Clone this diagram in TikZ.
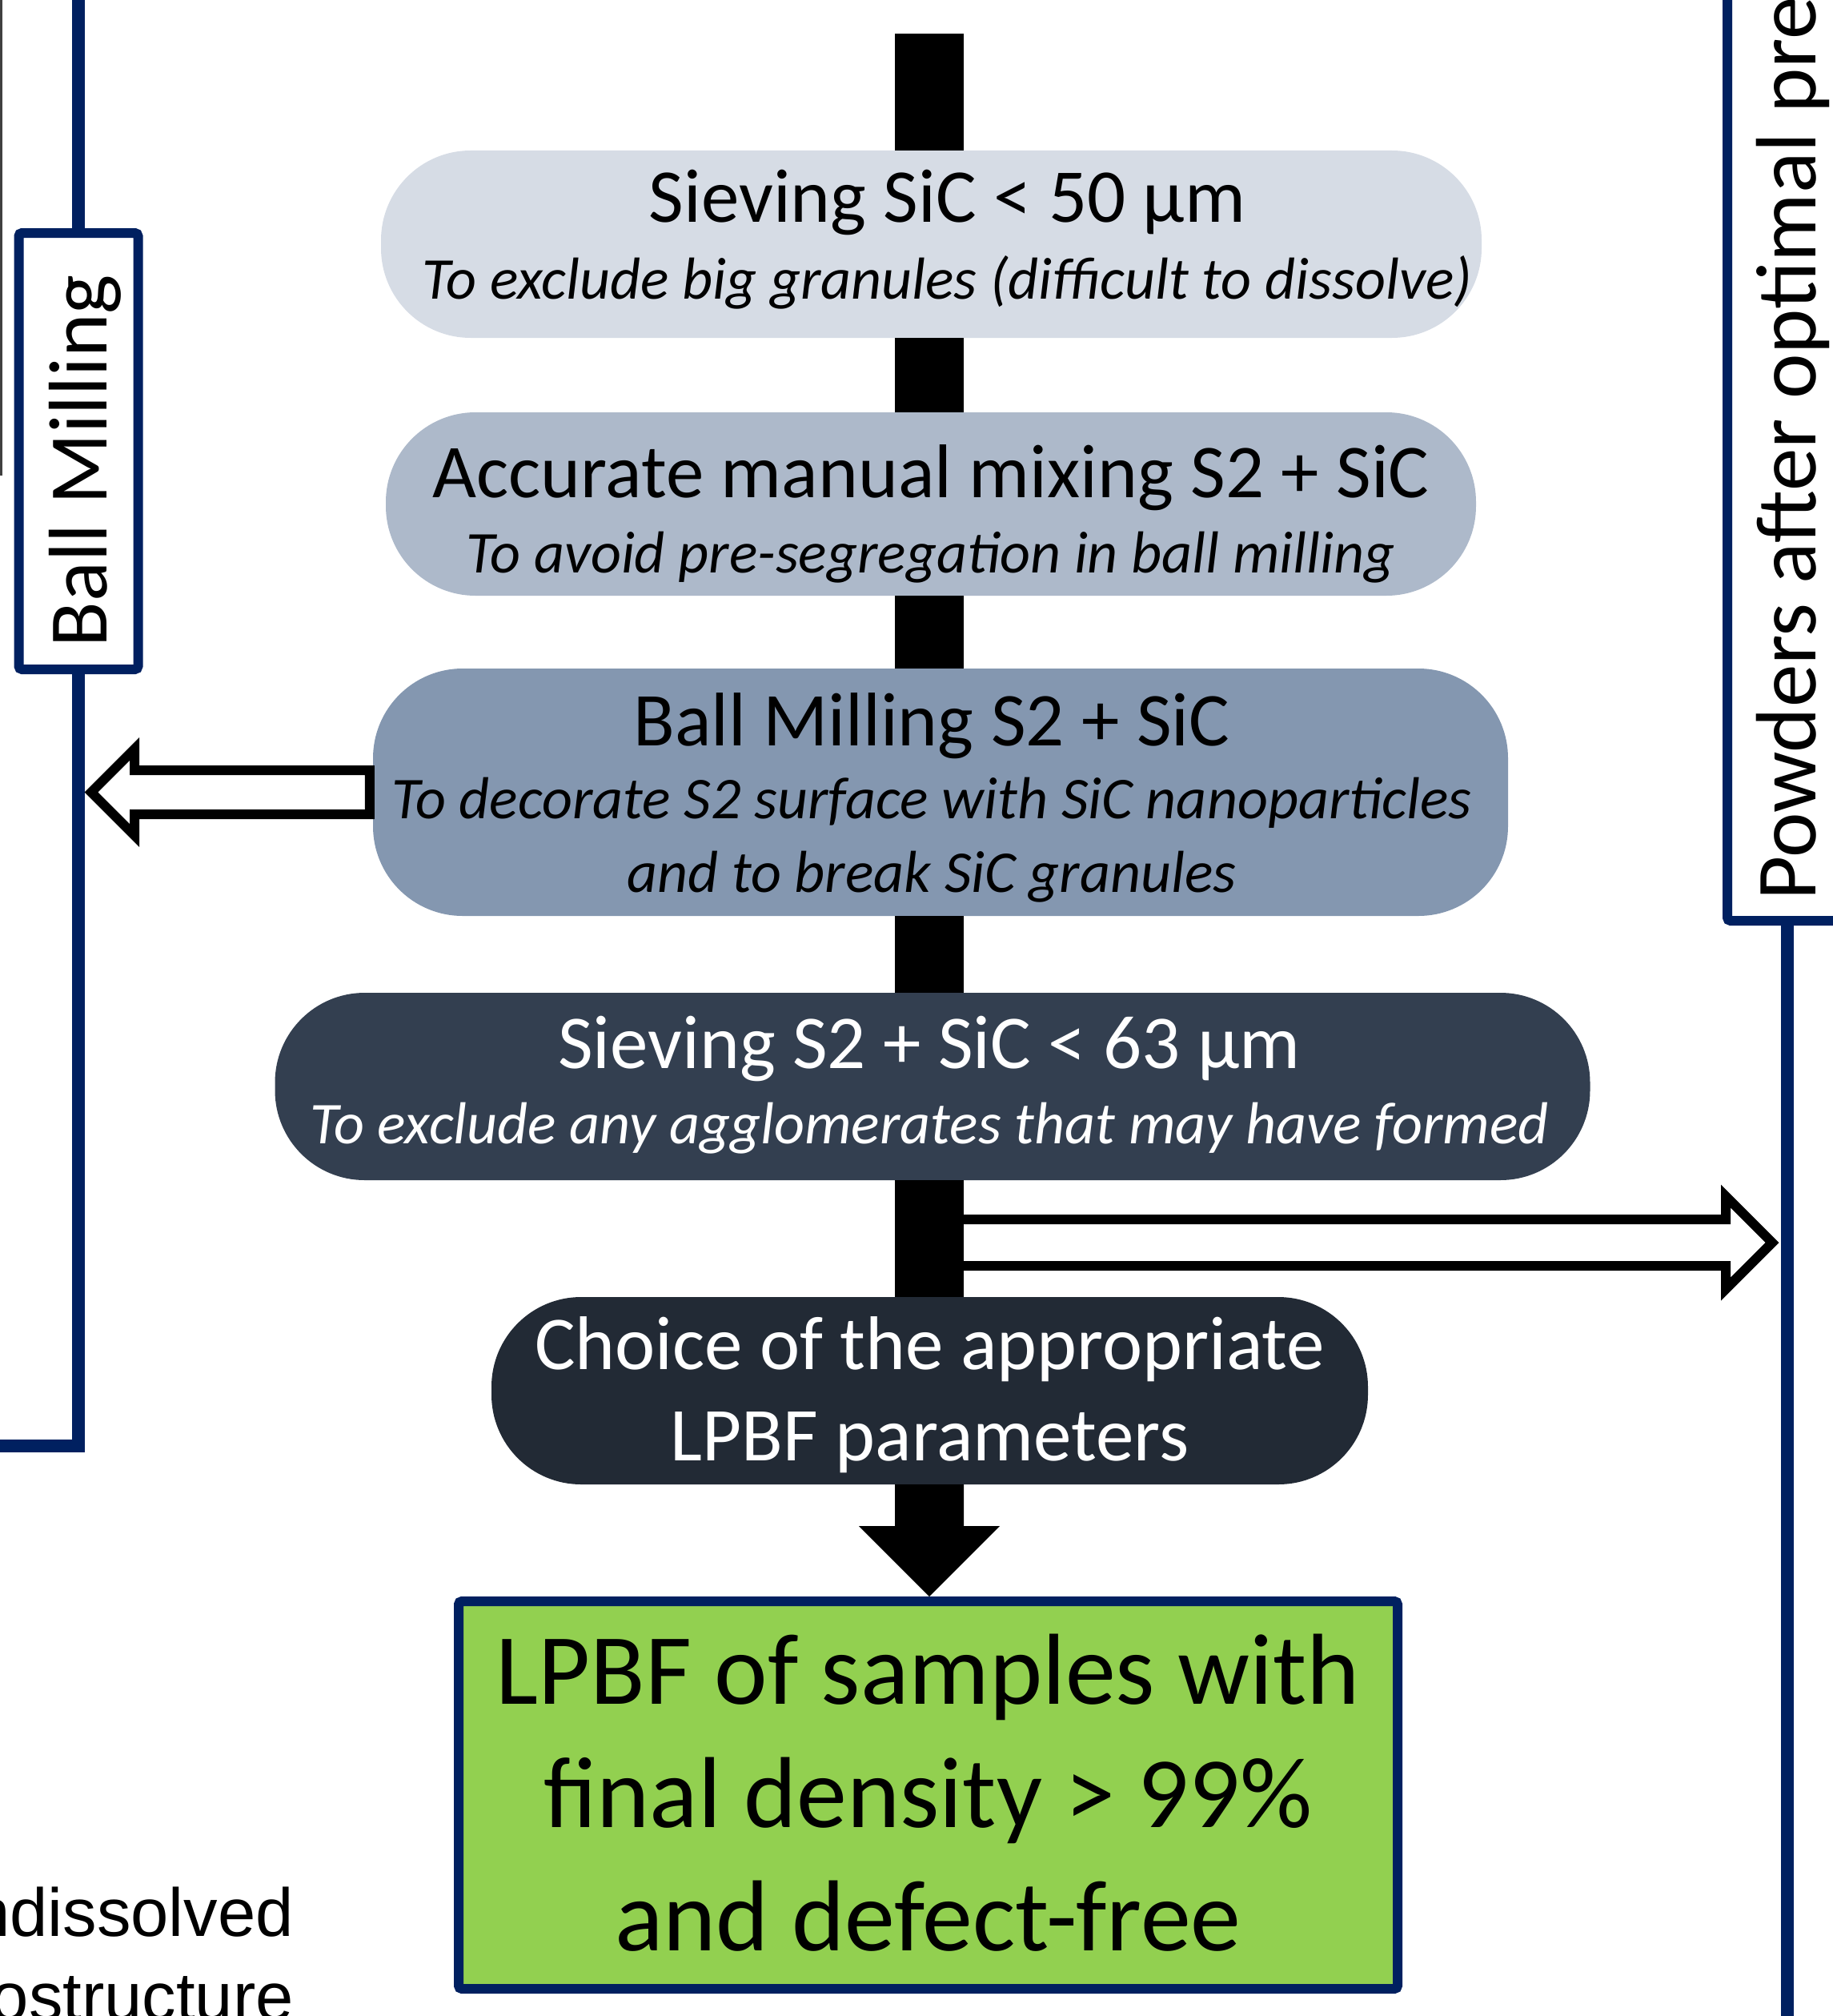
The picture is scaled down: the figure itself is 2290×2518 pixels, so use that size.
\documentclass[tikz,border=0pt]{standalone}
\usepackage{fontspec}
\setmainfont{Carlito}
\newfontfamily\arialfont{Liberation Sans}
\usetikzlibrary{calc}
\definecolor{navyc}{HTML}{002060}
\definecolor{cA}{HTML}{D6DCE5}
\definecolor{cB}{HTML}{ADB9CA}
\definecolor{cC}{HTML}{8497B0}
\definecolor{cD}{HTML}{333F50}
\definecolor{cE}{HTML}{222A35}
\definecolor{greenc}{HTML}{92D050}
\definecolor{edgegray}{HTML}{404040}
\newcommand\itf{\itshape\fontsize{74}{90}\selectfont}
\newcommand\shl{\hspace*{-22pt}}
\newcommand\shr{\hspace*{40pt}}
\newcommand\shs{\hspace*{-8pt}}
\newcommand\hst[1]{\rule{0pt}{#1pt}}
\newcommand\dst[1]{\rule[-#1pt]{0pt}{#1pt}}
\begin{document}
\begin{tikzpicture}[x=1pt,y=-1pt,
  stepbox/.style={rounded corners=112pt, inner sep=0pt, align=center, font=\fontsize{95}{95}\selectfont},
  navyline/.style={draw=navyc, line width=16pt},
  barline/.style={draw=black, line width=86pt},
  blockarr/.style={draw=black, fill=white, line width=12pt, line join=miter},
  sidebox/.style={draw=navyc, line width=12pt, fill=white, rounded corners=4pt, inner sep=0pt},
  sidetext/.style={font=\fontsize{104}{125}\selectfont}
]
\useasboundingbox (0,0) rectangle (2290,2518);

% coordinates for free ends
\coordinate (ltop) at (98,-20);
\coordinate (lcorner) at (98,1806);
\coordinate (lend) at (-20,1806);
\coordinate (rbot) at (2233,2540);
\coordinate (bartop) at (1161,42);
\coordinate (g1) at (1,-10);
\coordinate (g2) at (1,594);
\coordinate (rstart) at (1204,1552);
\coordinate (rhit) at (2233,1552);

% thin edge line at left
\draw[draw=edgegray, line width=3pt] (g1) -- (g2);

% step boxes
\node[stepbox, fill=cA, minimum width=1375pt, minimum height=234pt,
  font=\fontsize{95}{96}\selectfont] (s1) at (1163.5,305)
  {\hst{80}\shr Sieving SiC < 50 µm\\{\shr\itf To exclude big granules (difficult to dissolve)\dst{40}}};
\node[stepbox, fill=cB, minimum width=1362pt, minimum height=229pt,
  font=\fontsize{95}{94}\selectfont] (s2) at (1163,629.5)
  {\hst{105}Accurate manual mixing S2 + SiC\\{\itf To avoid pre-segregation in ball milling\dst{28}}};
\node[stepbox, fill=cC, minimum width=1418pt, minimum height=305pt,
  font=\fontsize{95}{91.5}\selectfont] (s3) at (1175,989.5)
  {\hst{96}\shl Ball Milling S2 + SiC\\{\shl\itf To decorate S2 surface with SiC nanoparticles}\\{\shl\itf and to break SiC granules\dst{30}}};
\node[stepbox, fill=cD, text=white, minimum width=1643pt, minimum height=234pt,
  font=\fontsize{95}{94}\selectfont] (s4) at (1165,1357)
  {\hst{80}\shs Sieving S2 + SiC < 63 µm\\{\shs\itf To exclude any agglomerates that may have formed\dst{32}}};
\node[stepbox, fill=cE, text=white, minimum width=1095pt, minimum height=234pt,
  font=\fontsize{95}{114}\selectfont] (s5) at (1161.5,1737)
  {\hst{90}Choice of the appropriate\\LPBF parameters\dst{30}};
\node[draw=navyc, fill=greenc, line width=12pt, rounded corners=4pt, inner sep=0pt,
  minimum width=1173pt, minimum height=484pt, align=center,
  font=\fontsize{126}{154}\selectfont] (green) at (1159.5,2242)
  {\hst{115}LPBF of samples with\\final density > 99\%\\and defect-free\dst{35}};

% side boxes
\node[sidebox, sidetext, rotate=90, minimum width=545pt, minimum height=149pt,
  text height=70pt, text depth=0pt] (bm) at (98,563.5) {Ball Milling\hspace*{24pt}};
\node[sidebox, fill=none, minimum width=150pt, minimum height=1200pt] (pbox) at (2233,550) {};
\node[font=\fontsize{107}{125}\selectfont, rotate=90, anchor=base west, inner sep=0pt] (ptext) at (2268,1125) {Powders after optimal pre};

% navy lines
\draw[navyline] (ltop) -- (bm.east);
\draw[navyline] (bm.west) -- (lcorner) -- (lend);
\draw[navyline] (pbox.south) -- (rbot);

% central bar
\draw[barline] (bartop) -- (bartop |- s1.north);
\draw[barline] (bartop |- s1.south) -- (bartop |- s2.north);
\draw[barline] (bartop |- s2.south) -- (bartop |- s3.north);
\draw[barline] (bartop |- s3.south) -- (bartop |- s4.north);
\draw[barline] (bartop |- s4.south) -- (bartop |- s5.north);
\fill[black] ($(bartop |- s5.south)+(-43,0)$) -- ($(bartop |- green.north)+(-43,-88)$)
  -- ++(-45,0) -- (bartop |- green.north) -- ++(88,-88) -- ++(-45,0)
  -- ($(bartop |- s5.south)+(43,0)$) -- cycle;

% left block arrow
\coordinate (lhit) at (bm.west |- s3.west);
\draw[blockarr] ($(s3.west)+(-4,-27.5)$) -- ($(lhit)+(70,-27.5)$) -- ($(lhit)+(70,-54)$)
  -- ($(lhit)+(16,0)$) -- ($(lhit)+(70,54)$) -- ($(lhit)+(70,27.5)$)
  -- ($(s3.west)+(-4,27.5)$) -- cycle;

% right block arrow
\draw[blockarr] ($(rstart)+(0,-29)$) -- ($(rhit)+(-77,-29)$) -- ($(rhit)+(-77,-58)$)
  -- ($(rhit)+(-19,0)$) -- ($(rhit)+(-77,58)$) -- ($(rhit)+(-77,29)$)
  -- ($(rstart)+(0,29)$);

% bottom-left clipped text
\node[font=\arialfont\fontsize{85}{100}\selectfont, anchor=base east, inner sep=0pt] (nd) at (367,2418) {ndissolved};
\node[font=\arialfont\fontsize{85}{100}\selectfont, anchor=base east, inner sep=0pt] (os) at (367,2523) {ostructure};
\end{tikzpicture}
\end{document}
